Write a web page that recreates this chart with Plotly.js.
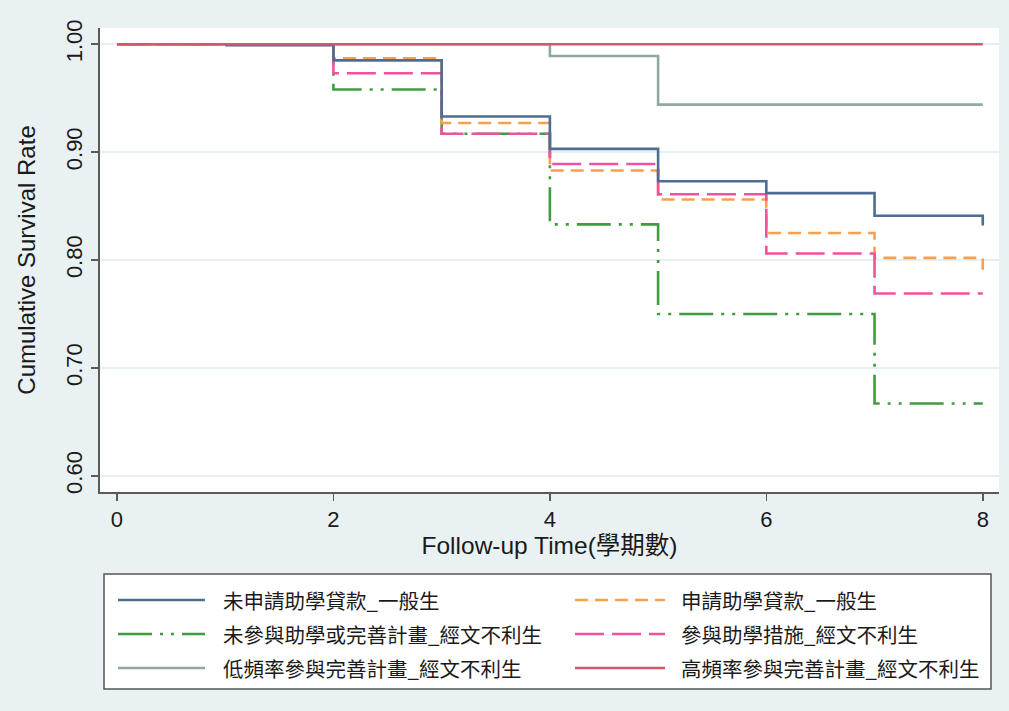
<!DOCTYPE html>
<html>
<head>
<meta charset="utf-8">
<script src="https://cdn.plot.ly/plotly-3.0.1.min.js"></script>
<style>html,body{margin:0;padding:0;background:#e9f1f3;}#chart{width:1009px;height:711px;}</style>
</head>
<body>
<div id="chart"></div>
<script>
// ---- data ----
const seriesNames = [
  "未申請助學貸款_一般生",
  "申請助學貸款_一般生",
  "未參與助學或完善計畫_經文不利生",
  "參與助學措施_經文不利生",
  "低頻率參與完善計畫_經文不利生",
  "高頻率參與完善計畫_經文不利生"
];
const blueX   = [1, 2, 3, 4, 5, 6, 7, 8];
const blueY   = [0.999, 0.985, 0.933, 0.903, 0.873, 0.862, 0.841, 0.832];
const orangeX = [0, 2, 3, 4, 5, 6, 7, 8];
const orangeY = [1.000, 0.987, 0.927, 0.883, 0.856, 0.825, 0.802, 0.791];
const greenX  = [0, 2, 3, 4, 5, 7, 8];
const greenY  = [1.000, 0.958, 0.917, 0.833, 0.750, 0.667, 0.667];
const pinkX   = [0, 2, 3, 4, 5, 6, 7, 8];
const pinkY   = [1.000, 0.973, 0.917, 0.889, 0.861, 0.806, 0.769, 0.769];
const greyX   = [0, 4, 5, 8];
const greyY   = [1.000, 0.989, 0.944, 0.944];
const redX    = [0, 8];
const redY    = [1.000, 1.000];
const yTicks  = [0.60, 0.70, 0.80, 0.90, 1.00];
const xTicks  = [0, 2, 4, 6, 8];

// ---- styles ----
const colors = ["#4d6d92", "#f6a04d", "#3f9c40", "#f2519e", "#8fa99d", "#d5566d"];
const dashes = ["solid", "13px,7px", "34px,8px,3px,8px,3px,8px", "29px,8px", "solid", "solid"];
const W = 2.6;

const xs = [blueX, orangeX, greenX, pinkX, greyX, redX];
const ys = [blueY, orangeY, greenY, pinkY, greyY, redY];
const order = [4, 2, 1, 3, 0, 5];
const traces = order.map(i => ({
  type: "scatter", mode: "lines", name: seriesNames[i],
  x: xs[i], y: ys[i],
  line: {shape: "hv", color: colors[i], width: W, dash: dashes[i]},
  showlegend: false, hoverinfo: "x+y+name"
}));

// ---- manual legend (pixel -> paper helpers) ----
const L = 100, R = 10, T = 28, B = 219, FW = 1009, FH = 711;
const PW = FW - L - R, PH = FH - T - B;
const px = v => (v - L) / PW;
const py = v => (FH - B - v) / PH;

const shapes = [{
  type: "rect", xref: "paper", yref: "paper",
  x0: px(104), x1: px(991), y0: py(574), y1: py(689),
  fillcolor: "#ffffff", line: {color: "#555555", width: 1.5}, layer: "below"
}];
const annotations = [];
const rowsY = [600, 634, 668];
const cols = [{s0: 118, s1: 205, t: 221}, {s0: 575, s1: 665, t: 679}];
for (let i = 0; i < 6; i++) {
  const c = cols[i % 2], r = rowsY[Math.floor(i / 2)];
  shapes.push({type: "line", xref: "paper", yref: "paper",
    x0: px(c.s0), x1: px(c.s1), y0: py(r), y1: py(r),
    line: {color: colors[i], width: W, dash: dashes[i]}});
  annotations.push({xref: "paper", yref: "paper", x: px(c.t), y: py(r),
    xanchor: "left", yanchor: "middle", showarrow: false, text: seriesNames[i],
    font: {family: "Noto Sans CJK TC, sans-serif", size: 20.5, color: "#1a1a1a"}});
}

const layout = {
  width: FW, height: FH,
  margin: {l: L, r: R, t: T, b: B, pad: 0},
  paper_bgcolor: "#e9f1f3", plot_bgcolor: "#ffffff",
  showlegend: false,
  font: {family: "Liberation Sans, Arial, sans-serif", color: "#1a1a1a"},
  xaxis: {
    range: [-0.157, 8.15], tickvals: xTicks, ticktext: xTicks.map(String),
    showgrid: false, zeroline: false,
    showline: true, linecolor: "#5a5a5a", linewidth: 2,
    ticks: "outside", ticklen: 7, tickwidth: 1.5, tickcolor: "#5a5a5a",
    tickfont: {size: 22, color: "#1a1a1a"},
    title: {text: "Follow-up Time(學期數)", font: {size: 24.5, color: "#1a1a1a", family: "Liberation Sans, Noto Sans CJK TC, sans-serif"}, standoff: 5},
    automargin: false
  },
  yaxis: {
    range: [0.585, 1.015], tickvals: yTicks, ticktext: yTicks.map(v => v.toFixed(2)),
    tickangle: -90,
    showgrid: true, gridcolor: "#e6eff2", gridwidth: 1.5, zeroline: false,
    showline: true, linecolor: "#5a5a5a", linewidth: 2,
    ticks: "outside", ticklen: 7, tickwidth: 1.5, tickcolor: "#5a5a5a",
    tickfont: {size: 22, color: "#1a1a1a"},
    title: {text: "Cumulative Survival Rate", font: {size: 24, color: "#1a1a1a"}, standoff: 20},
    automargin: false
  },
  shapes: shapes, annotations: annotations
};

Plotly.newPlot("chart", traces, layout, {displayModeBar: false, staticPlot: true});
</script>
</body>
</html>
